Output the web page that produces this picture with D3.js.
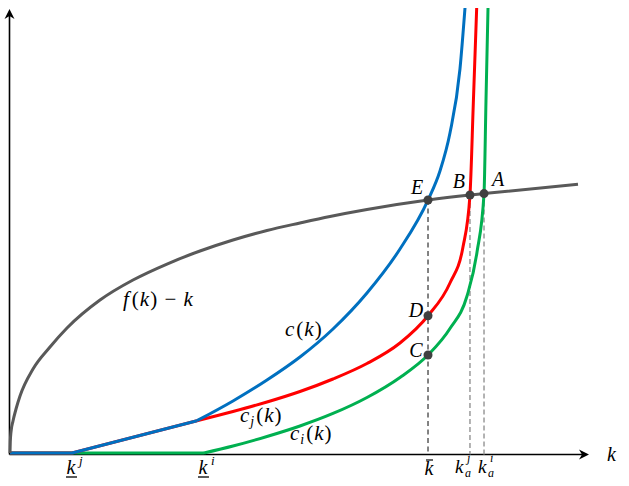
<!DOCTYPE html>
<html><head><meta charset="utf-8">
<script src="https://cdn.jsdelivr.net/npm/d3@7"></script>
<style>
html,body{margin:0;padding:0;background:#fff;}
svg{display:block;}
text{font-family:"Liberation Serif","Times New Roman",serif;fill:#000;}
</style>
</head><body>
<svg id="chart" width="629" height="486"></svg>
<script>
// ---------- data ----------
const fMinusK = [[0,0],[0.005,0.247],[0.017,0.472],[0.052,0.719],[0.104,0.989],[0.173,1.281],[0.398,1.888],[0.692,2.382],[0.986,2.809],[1.557,3.438],[2.128,3.888],[2.716,4.247],[3.287,4.539],[3.858,4.787],[4.446,5.000],[5.017,5.169],[5.536,5.315],[6.176,5.472],[7.232,5.685],[7.958,5.797],[8.201,5.830],[9.827,6.040]];
const cLinear = [[0,0],[1.073,0],[3.235,0.726]];
const cCurve = [[3.235,0.726],[3.858,1.169],[4.446,1.640],[5.017,2.157],[5.588,2.787],[6.176,3.596],[6.747,4.584],[7.232,5.685],[7.439,6.337],[7.612,7.191],[7.785,8.629],[7.872,10.0]];
const cjLinear = [[0,0],[1.073,0],[3.235,0.726]];
const cjCurve = [[3.235,0.726],[3.858,0.933],[4.446,1.146],[5.017,1.382],[5.588,1.663],[6.176,2.011],[6.747,2.472],[7.232,3.085],[7.612,3.820],[7.837,4.629],[7.958,5.797],[8.016,7.865],[8.074,10.0]];
const ciLinear = [[0,0],[3.356,0]];
const ciCurve = [[3.356,0],[3.858,0.157],[4.446,0.371],[5.017,0.607],[5.588,0.888],[6.176,1.247],[6.747,1.697],[7.232,2.202],[7.612,2.798],[7.907,3.528],[8.080,4.517],[8.201,5.830],[8.235,7.910],[8.270,10.0]];
const pointNames = ["E","B","A","D","C"];
const pointK = [7.232,7.958,8.201,7.232,7.232];
const pointY = [5.685,5.797,5.830,3.085,2.202];
const tickNames = ["kj","ki","kbar","kaj","kai"];
const tickK = [1.073,3.356,7.232,7.958,8.201];

// ---------- setup ----------
const svg = d3.select("#chart");
const x = d3.scaleLinear().domain([0,10]).range([10,588]);
const y = d3.scaleLinear().domain([0,10]).range([453,8]);
const axisY = y(0)+1.5;

// axes (library axes, domain replaced by arrow lines)
const gx = svg.append("g").attr("transform",`translate(0,${axisY})`)
  .call(d3.axisBottom(x).tickValues(tickK).tickSize(0).tickSizeOuter(0).tickFormat(()=>""));
gx.select(".domain").remove();
const gy = svg.append("g").attr("transform",`translate(${x(0)-0.5},0)`)
  .call(d3.axisLeft(y).tickValues([]).tickSize(0).tickSizeOuter(0));
gy.select(".domain").remove();

svg.append("line").attr("x1",x(0)-0.5).attr("x2",x(10)-3).attr("y1",axisY).attr("y2",axisY)
  .attr("stroke","#000").attr("stroke-width",1.6);
svg.append("line").attr("x1",x(0)-0.5).attr("x2",x(0)-0.5).attr("y1",axisY).attr("y2",y(10)+4)
  .attr("stroke","#000").attr("stroke-width",1.6);
const xt = x(10)+1, yt = y(10)+1;
svg.append("path").attr("d",`M${xt},${axisY}L${xt-10},${axisY-5}L${xt-7},${axisY}L${xt-10},${axisY+5}Z`).attr("fill","#000");
const ax = x(0)-0.5;
svg.append("path").attr("d",`M${ax},${yt}L${ax-5},${yt+10}L${ax},${yt+7}L${ax+5},${yt+10}Z`).attr("fill","#000");

// dashed guide lines
svg.append("line").attr("x1",x(pointK[0])).attr("x2",x(pointK[0])).attr("y1",y(pointY[0])).attr("y2",axisY)
  .attr("stroke","#404040").attr("stroke-width",1.3).attr("stroke-dasharray","5,3.5");
[1,2].forEach(i=>{
  svg.append("line").attr("x1",x(pointK[i])).attr("x2",x(pointK[i])).attr("y1",y(pointY[i])).attr("y2",axisY)
    .attr("stroke","#9a9a9a").attr("stroke-width",1.5).attr("stroke-dasharray","5,3");
});

// curves
const lin = d3.line().x(d=>x(d[0])).y(d=>y(d[1]));
const smooth = d3.line().x(d=>x(d[0])).y(d=>y(d[1])).curve(d3.curveMonotoneX);
function draw(data, gen, color){
  svg.append("path").datum(data).attr("d",gen).attr("fill","none")
    .attr("stroke",color).attr("stroke-width",3).attr("stroke-linejoin","round");
}
draw(ciLinear, lin, "#00B050");
draw(ciCurve, smooth, "#00B050");
draw(cjLinear, lin, "#FF0000");
draw(cjCurve, smooth, "#FF0000");
draw(cLinear, lin, "#0070C0");
draw(cCurve, smooth, "#0070C0");
draw(fMinusK, smooth, "#595959");

// points
svg.selectAll("circle.pt").data(pointNames).enter().append("circle")
  .attr("cx",(d,i)=>x(pointK[i])).attr("cy",(d,i)=>y(pointY[i])).attr("r",4.5).attr("fill","#404040");

// point labels
const ptLabelOff = {E:[-11,-6],B:[-11,-7],A:[14,-8],D:[-12,1],C:[-12,2]};
svg.selectAll("text.ptl").data(pointNames).enter().append("text")
  .attr("x",(d,i)=>x(pointK[i])+ptLabelOff[d][0]).attr("y",(d,i)=>y(pointY[i])+ptLabelOff[d][1])
  .attr("text-anchor","middle").attr("font-size",20).attr("font-style","italic").text(d=>d);

// function label helper
function mathLabel(px, py, parts){
  const t = svg.append("text").attr("x",px).attr("y",py).attr("font-size",21).attr("letter-spacing",1);
  parts.forEach(p=>{
    const s = t.append("tspan").text(p.t);
    if(p.i) s.attr("font-style","italic");
    if(p.fs) s.attr("font-size",p.fs);
    if(p.dy) s.attr("dy",p.dy);
    if(p.dx) s.attr("dx",p.dx);
  });
  return t;
}
mathLabel(123,306,[{t:"f",i:1},{t:"(",dx:2},{t:"k",i:1},{t:")"},{t:" − "},{t:"k",i:1}]);
mathLabel(285,336,[{t:"c",i:1},{t:"(",dx:1},{t:"k",i:1},{t:")"}]);
mathLabel(240,422,[{t:"c",i:1},{t:"j",i:1,fs:14,dy:4},{t:"(",dy:-4,dx:1},{t:"k",i:1},{t:")"}]);
mathLabel(290,440,[{t:"c",i:1},{t:"i",i:1,fs:14,dy:4},{t:"(",dy:-4,dx:1},{t:"k",i:1},{t:")"}]);

// tick labels
const base = 474;
function kUnder(i, sup){
  const cx = x(tickK[i]);
  svg.append("text").attr("x",cx-1).attr("y",base).attr("text-anchor","middle")
    .attr("font-size",20).attr("font-style","italic").text("k");
  svg.append("line").attr("x1",cx-6).attr("x2",cx+5).attr("y1",base+3).attr("y2",base+3)
    .attr("stroke","#000").attr("stroke-width",1.3);
  svg.append("text").attr("x",cx+7).attr("y",base-9).attr("font-size",13).attr("font-style","italic").text(sup);
}
kUnder(0,"j");
kUnder(1,"i");
// k bar
{
  const cx = x(tickK[2]);
  svg.append("text").attr("x",cx+1).attr("y",base+1).attr("text-anchor","middle")
    .attr("font-size",20).attr("font-style","italic").text("k");
  svg.append("line").attr("x1",cx-2).attr("x2",cx+5).attr("y1",460).attr("y2",460)
    .attr("stroke","#000").attr("stroke-width",1.2);
}
function kA(i, sup, offs){
  const cx = x(tickK[i]);
  svg.append("text").attr("x",cx+offs).attr("y",base-1).attr("font-size",19).attr("font-style","italic").text("k");
  svg.append("text").attr("x",cx+offs+10).attr("y",477).attr("font-size",12).attr("font-style","italic").text("a");
  svg.append("text").attr("x",cx+offs+12).attr("y",462).attr("font-size",12).attr("font-style","italic").text(sup);
}
kA(3,"j",-15);
kA(4,"i",-6);
// axis variable
svg.append("text").attr("x",x(10)+19).attr("y",axisY+6).attr("font-size",20).attr("font-style","italic").text("k");
</script>
</body></html>
